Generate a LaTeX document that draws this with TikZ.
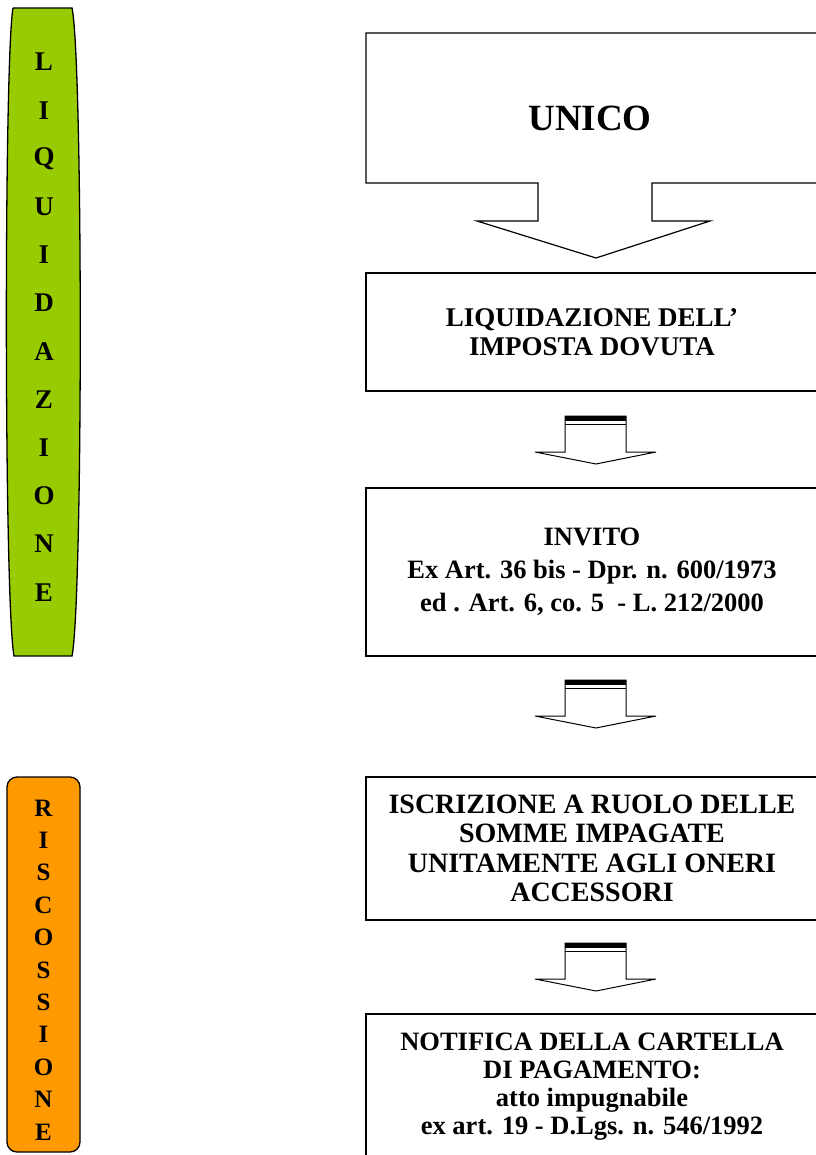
\documentclass[tikz,border=0pt]{standalone}
\usepackage{fontspec}
\setmainfont{Liberation Serif}
\usetikzlibrary{positioning,calc}

\definecolor{liqgreen}{RGB}{153,204,0}
\definecolor{risorange}{RGB}{255,153,0}

\begin{document}
\begin{tikzpicture}
	[   x=1pt,y=-1pt,
		box/.style={draw=black,line width=1.2pt,minimum width=452pt,minimum height=#1,align=center,inner sep=0pt},
		boxfont/.style n args={2}{font=\bfseries\fontsize{#1}{#2}\selectfont},
		letter/.style={font=\bfseries\fontsize{#1}{#1}\selectfont,inner sep=0pt},
	]
	\tikzset{block arrow/.style={draw=black,line width=1pt,fill=white,line join=miter}}
	\useasboundingbox (0,0) rectangle (815,1155);

	% left bars
	\draw[line width=1.3pt,fill=liqgreen] (13,8) -- (72,8) .. controls (83,60) and (83,600) .. (72,656) -- (14,656) .. controls (4,600) and (4,60) .. (13,8);
	\draw[line width=1.3pt,fill=risorange,rounded corners=10pt] (7,777) rectangle (80,1152);

	\foreach \l [count=\i from 0] in {L,I,Q,U,I,D,A,Z,I,O,N,E}
	{
		\node[letter=27] (liq-\i) at (44,62+48.2*\i) {\l};
	}
	\foreach \l [count=\i from 0] in {R,I,S,C,O,S,S,I,O,N,E}
	{
		\node[letter=25] (ris-\i) at (43.5,808+32.4*\i) {\l};
	}

	% UNICO with its arrow
	\draw[block arrow,line width=1.2pt] (366,33) -- (826,33) -- (826,183) -- (652,183) -- (652,221) -- (710,221) -- (596,258) -- (477,221) -- (538,221) -- (538,183) -- (366,183) -- cycle;
	\node[boxfont={37}{37}] (unico) at (590,118) {UNICO};

	\node[box=118pt,boxfont={27}{28.5}] (liquidazione) at (592,332) {LIQUIDAZIONE DELL’\\IMPOSTA DOVUTA};
	\node[box=168pt,boxfont={26.5}{33}] (invito) at (592,572) {INVITO\\Ex Art. 36 bis - Dpr. n. 600/1973\\ed . Art. 6, co. 5 \ - L. 212/2000};
	\node[box=143pt,boxfont={28}{29.5}] (iscrizione) at (592,848.5) {ISCRIZIONE A RUOLO DELLE\\SOMME IMPAGATE\\UNITAMENTE AGLI ONERI\\ACCESSORI};
	\node[box=146pt,boxfont={26.5}{28}] (notifica) at (592,1087) {NOTIFICA DELLA CARTELLA\\DI PAGAMENTO:\\atto impugnabile\\ex art. 19 - D.Lgs. n. 546/1992};

	% small arrows
	\foreach \y in {416,680,943}
	{
		\draw[block arrow] (565,\y) -- (626,\y) -- (626,\y+36) -- (656,\y+36) -- (596,\y+48) -- (535,\y+36) -- (565,\y+36) -- cycle;
		\fill[black] (565,\y-0.5) rectangle (626,\y+5);
		\draw[line width=1pt] (565,\y+8) -- (626,\y+8);
	}

\end{tikzpicture}
\end{document}
